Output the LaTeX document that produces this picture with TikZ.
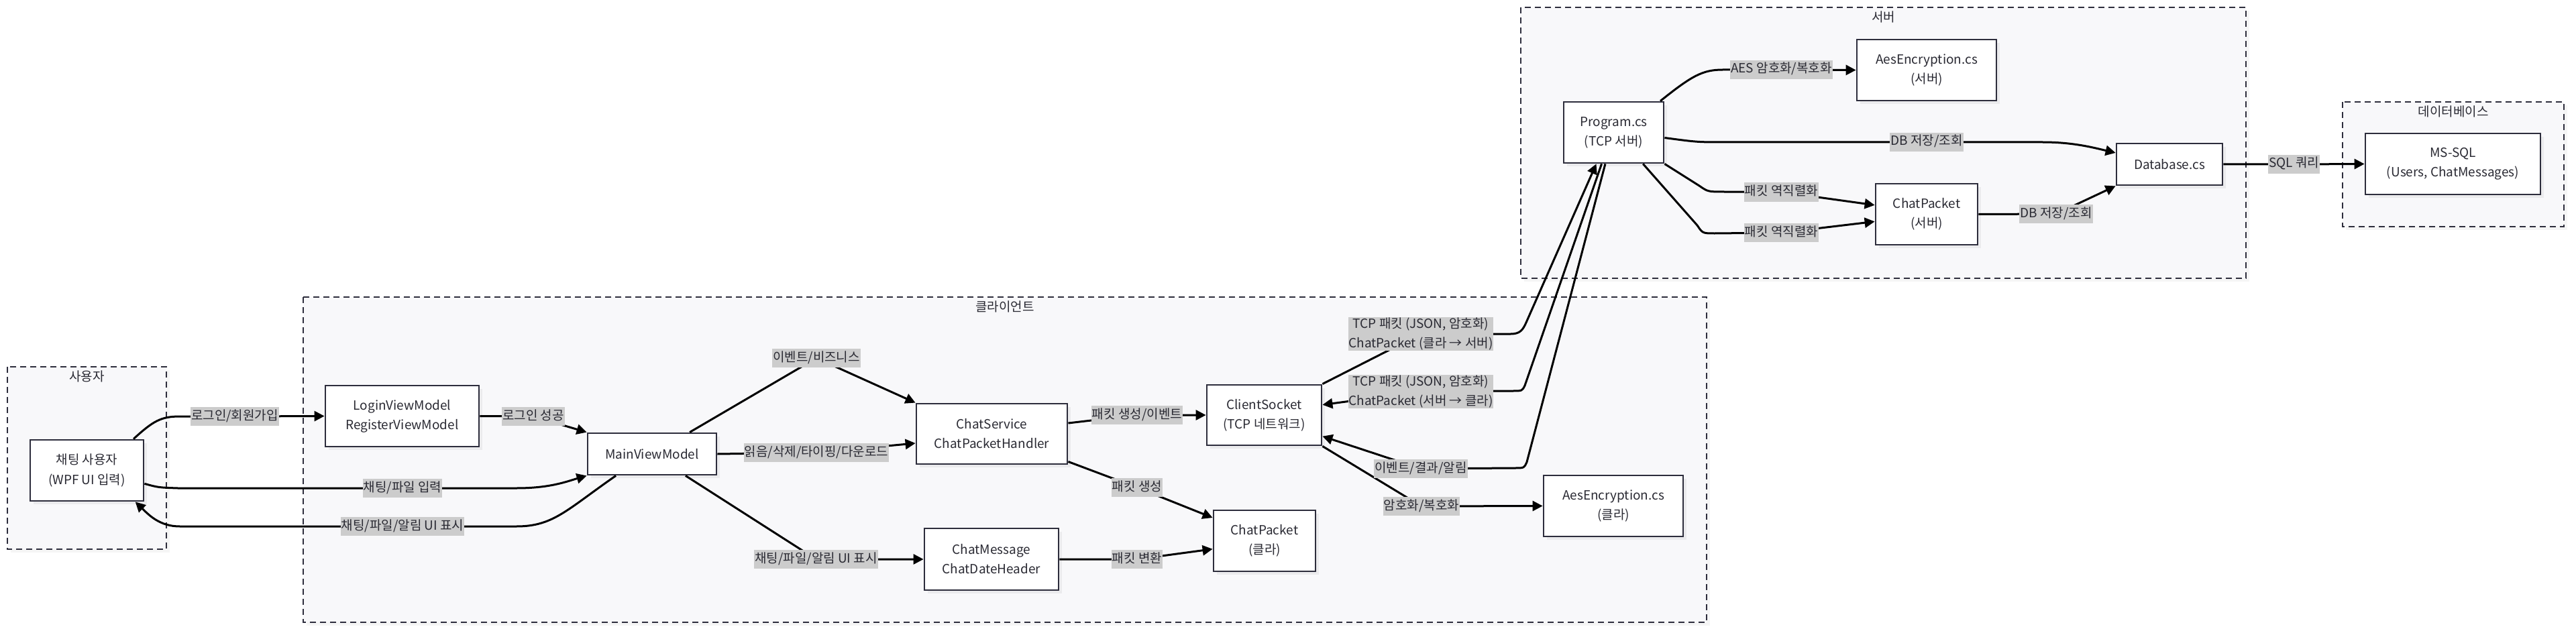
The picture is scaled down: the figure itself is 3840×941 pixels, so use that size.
\documentclass[tikz,border=0pt]{standalone}
\usepackage{fontspec}
\setmainfont{Noto Sans CJK KR}
\usetikzlibrary{arrows.meta,shadows}
\definecolor{groupfill}{HTML}{F8F8FA}
\definecolor{boxline}{HTML}{2D2D3C}
\definecolor{lblfill}{HTML}{CCCCCC}
\definecolor{textcol}{HTML}{2A2A33}

\begin{document}
\begin{tikzpicture}[x=1pt,y=-1pt,font=\fontsize{19}{29}\selectfont]
  % Define style for boxes, groups, edges and edge labels
  \tikzstyle{box} = [draw=boxline, line width=2.8pt, fill=white, rectangle, inner sep=0pt, align=center, text=textcol, drop shadow={shadow xshift=5pt, shadow yshift=-5pt, fill=black, opacity=0.05}]
  \tikzstyle{group} = [draw=boxline, line width=2.8pt, dash pattern=on 9pt off 6pt, fill=groupfill, drop shadow={shadow xshift=5pt, shadow yshift=-5pt, fill=black, opacity=0.04}]
  \tikzstyle{edge} = [draw=black, line width=3pt, -{Triangle[length=15pt,width=15pt]}]
  \tikzstyle{lbl} = [fill=lblfill, text=textcol, inner xsep=1pt, inner ysep=4pt, text height=15pt, text depth=5pt]
  \tikzstyle{lbltwo} = [fill=lblfill, text=textcol, inner xsep=1pt, inner ysep=1pt, align=center]

  \fill[white] (0,0) rectangle (3840,941);
  \useasboundingbox (0,0) rectangle (3840,941);

  % Draw the groups
  \foreach \gname/\xa/\ya/\xb/\yb/\gtitle in {usr/11/547/248/819/사용자, cli/452/443/2544/928/클라이언트, srv/2267/11/3348/415/서버, db/3492/152/3822/338/데이터베이스} {
    \draw[group] (\xa,\ya) rectangle (\xb,\yb);
    \node(t\gname)[text=textcol] at ({(\xa+\xb)/2},\ya+14) {\gtitle};
  }

  % Draw the boxes
  \node(user)[box, minimum width=169pt, minimum height=91pt] at (129.5,701.5) {채팅 사용자\\(WPF UI 입력)};
  \node(login)[box, minimum width=229pt, minimum height=91pt] at (599.5,620.5) {LoginViewModel\\RegisterViewModel};
  \node(mainvm)[box, minimum width=192pt, minimum height=62pt] at (972,677) {MainViewModel};
  \node(service)[box, minimum width=225pt, minimum height=90pt] at (1478.5,647) {ChatService\\ChatPacketHandler};
  \node(message)[box, minimum width=200pt, minimum height=92pt] at (1478,834) {ChatMessage\\ChatDateHeader};
  \node(socket)[box, minimum width=171pt, minimum height=90pt] at (1884.5,619) {ClientSocket\\(TCP 네트워크)};
  \node(cpclient)[box, minimum width=152pt, minimum height=91pt] at (1885,806.5) {ChatPacket\\(클라)};
  \node(aesclient)[box, minimum width=208pt, minimum height=91pt] at (2405,754.5) {AesEncryption.cs\\(클라)};
  \node(program)[box, minimum width=149pt, minimum height=91pt] at (2405.5,197.5) {Program.cs\\(TCP 서버)};
  \node(aesserver)[box, minimum width=208pt, minimum height=91pt] at (2872,104.5) {AesEncryption.cs\\(서버)};
  \node(cpserver)[box, minimum width=152pt, minimum height=91pt] at (2872,319.5) {ChatPacket\\(서버)};
  \node(database)[box, minimum width=158pt, minimum height=62pt] at (3234,245) {Database.cs};
  \node(mssql)[box, minimum width=261pt, minimum height=91pt] at (3656.5,244.5) {MS-SQL\\(Users, ChatMessages)};

  % Draw the edges of the client
  \draw[edge] (user.34) .. controls (228,628) and (240,621) .. (268,621) -- (350,621) node[lbl]{로그인/회원가입} -- (login.west);
  \draw[edge] (login.east) -- (795,621) node[lbl]{로그인 성공} -- (mainvm.north west);
  \draw[edge] (user.-13) .. controls (236,727) .. (265,728) -- (600,728) node[lbl]{채팅/파일 입력} -- (770,728) .. controls (820,728) and (845,718) .. (mainvm.south west);
  \draw[edge] (mainvm.-149) .. controls (845,760) and (825,785) .. (770,785) -- (600,785) node[lbl]{채팅/파일/알림 UI 표시} -- (268,785) .. controls (238,785) and (222,768) .. (user.-33);
  \draw[edge] (mainvm.30) -- (1217,534) node[lbl]{이벤트/비즈니스} -- (service.north west);
  \draw[edge] (mainvm.east) -- (1217,675) node[lbl]{읽음/삭제/타이핑/다운로드} -- (service.-173);
  \draw[edge] (mainvm.-33) -- (1216.5,834) node[lbl]{채팅/파일/알림 UI 표시} -- (message.west);
  \draw[edge] (service.8) -- (1695,619) node[lbl]{패킷 생성/이벤트} -- (socket.west);
  \draw[edge] (service.-20) -- (1695,727) node[lbl]{패킷 생성} -- (cpclient.156);
  \draw[edge] (message.east) -- (1695,834) node[lbl]{패킷 변환} -- (cpclient.-171);
  \draw[edge] (socket.south east) -- (2119,755) node[lbl]{암호화/복호화} -- (aesclient.west);

  % Client <-> server
  \draw[edge] (socket.north east) -- (2118,498) node[lbltwo]{TCP 패킷 (JSON, 암호화)\\ChatPacket (클라 → 서버)} -- (2252,498) .. controls (2266,498) and (2270,492) .. (2275,481) -- (program.-119);
  \draw[edge] (program.-111) -- (2273,575) .. controls (2269,583) .. (2255,583) -- (2118,584) node[lbltwo]{TCP 패킷 (JSON, 암호화)\\ChatPacket (서버 → 클라)} -- (socket.10);
  \draw[edge] (program.-105) -- (2276,689) .. controls (2272,698) .. (2258,698) -- (2118,699) node[lbl]{이벤트/결과/알림} -- (socket.-20);

  % Draw the edges of the server
  \draw[edge] (program.34) .. controls (2522,113) and (2538,104) .. (2568,104) -- (2655.5,104) node[lbl]{AES 암호화/복호화} -- (aesserver.west);
  \draw[edge] (program.-6) .. controls (2530,212) .. (2570,212) -- (2872,212) node[lbl]{DB 저장/조회} -- (3045,212) .. controls (3090,212) and (3120,220) .. (database.168);
  \draw[edge] (program.south east) -- (2533,277) .. controls (2546,286) .. (2570,286) -- (2655.5,286.5) node[lbl]{패킷 역직렬화} -- (cpserver.170);
  \draw[edge] (program.-47) -- (2530,336) .. controls (2538,348) .. (2556,348) -- (2655.5,347) node[lbl]{패킷 역직렬화} -- (cpserver.-172);
  \draw[edge] (cpserver.east) -- (3065,319) node[lbl]{DB 저장/조회} -- (database.south west);
  \draw[edge] (database.east) -- (3419.5,245) node[lbl]{SQL 쿼리} -- (mssql.west);
\end{tikzpicture}
\end{document}
